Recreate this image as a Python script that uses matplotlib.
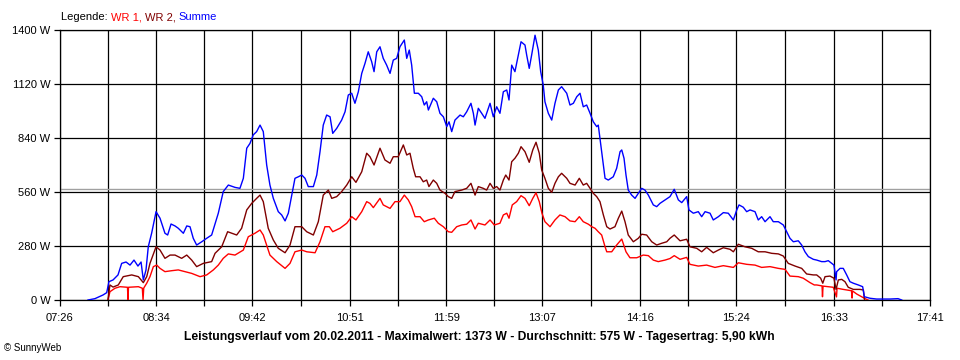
import matplotlib
matplotlib.use("Agg")
import matplotlib.pyplot as plt
from matplotlib.ticker import FixedLocator, NullFormatter

# ---------------- data (time in minutes since midnight, power in W) ----------------
x_tick_labels = ["07:26", "08:34", "09:42", "10:51", "11:59", "13:07", "14:16", "15:24", "16:33", "17:41"]
y_ticks = [0, 280, 560, 840, 1120, 1400]
average_w = 575

summe_t = [465.8, 470.7, 476.4, 479.0, 480.6, 483.5, 487.0, 489.6, 492.7, 495.5, 498.3, 501.1, 503.3, 504.9,
           506.8, 508.4, 510.8, 513.9, 516.7, 520.2, 522.1, 524.5, 527.3, 529.6, 533.2, 535.6, 537.9, 540.2,
           542.6, 546.2, 549.7, 553.2, 557.9, 561.4, 565.0, 569.7, 573.2, 575.6, 578.0, 580.3, 582.6, 585.0,
           587.4, 589.7, 592.1, 594.4, 596.8, 600.3, 602.7, 605.1, 607.4, 609.8, 612.1, 614.5, 616.9, 619.2,
           621.5, 625.1, 627.5, 629.8, 632.1, 634.5, 636.9, 638.8, 641.6, 645.1, 647.5, 649.8, 652.2, 654.5,
           656.9, 659.3, 661.6, 663.9, 666.3, 668.0, 669.9, 672.2, 674.5, 676.9, 679.3, 681.6, 684.0, 686.3,
           689.4, 691.1, 692.9, 694.6, 696.5, 699.3, 701.7, 703.5, 705.2, 706.4, 709.9, 712.3, 714.6, 717.0,
           719.4, 721.0, 722.9, 725.2, 728.8, 731.1, 733.5, 736.5, 738.2, 739.4, 741.7, 744.1, 746.4, 750.0,
           752.3, 754.7, 757.0, 759.4, 761.8, 763.4, 765.3, 767.6, 770.0, 771.9, 774.7, 775.9, 777.7, 779.4,
           781.8, 784.1, 785.8, 787.6, 788.8, 791.2, 793.6, 795.9, 798.3, 800.6, 804.2, 806.5, 808.9, 811.3,
           813.6, 815.9, 818.3, 820.7, 823.0, 825.4, 826.5, 827.7, 828.9, 831.3, 833.6, 837.1, 839.5, 841.9,
           843.1, 844.7, 846.1, 847.7, 850.1, 852.5, 854.8, 857.2, 859.5, 861.9, 865.4, 867.8, 870.1, 873.7,
           877.2, 880.2, 883.1, 885.5, 889.0, 890.6, 893.7, 897.2, 899.6, 902.0, 905.5, 907.8, 911.4, 914.9,
           918.4, 922.0, 924.4, 926.0, 929.0, 931.4, 933.8, 937.3, 939.6, 942.0, 944.4, 947.9, 950.2, 953.8,
           957.3, 959.7, 962.0, 964.4, 967.9, 970.3, 972.6, 975.0, 978.5, 980.9, 984.4, 986.8, 989.1, 991.5,
           993.1, 994.6, 995.0, 997.4, 999.7, 1002.1, 1004.4, 1006.8, 1010.3, 1013.4, 1014.6, 1018.6, 1023.3,
           1032.7, 1038.4, 1041.0]
summe_w = [0, 7, 26, 38, 95, 104, 130, 190, 197, 181, 207, 176, 197, 104,
           156, 276, 347, 458, 424, 346, 337, 394, 384, 372, 346, 384, 380, 320,
           285, 302, 320, 337, 450, 562, 596, 584, 579, 631, 787, 812, 856, 873,
           907, 873, 700, 596, 527, 458, 441, 410, 450, 544, 631, 639, 648, 631,
           588, 588, 648, 769, 907, 959, 950, 864, 890, 933, 976, 1063, 1072, 1020,
           1080, 1175, 1227, 1287, 1236, 1184, 1287, 1313, 1253, 1218, 1175, 1244, 1253, 1313,
           1348, 1253, 1296, 1218, 1072, 1072, 1054, 1011, 1028, 985, 1046, 1028, 968, 950,
           899, 924, 873, 933, 959, 950, 976, 1020, 968, 907, 994, 968, 942, 1020,
           950, 1002, 968, 1080, 1089, 1037, 1218, 1184, 1270, 1339, 1322, 1270, 1201, 1270,
           1373, 1296, 1184, 1115, 1028, 968, 933, 1020, 1089, 1106, 1072, 1011, 1020, 1054,
           1072, 1002, 1011, 968, 924, 899, 907, 838, 769, 631, 622, 639, 683, 769,
           778, 735, 648, 570, 544, 527, 553, 579, 570, 544, 493, 484, 501, 519,
           536, 574, 519, 505, 536, 467, 450, 458, 432, 458, 450, 415, 432, 453,
           450, 415, 467, 493, 481, 458, 467, 458, 415, 432, 406, 432, 406, 406,
           389, 354, 320, 302, 307, 285, 250, 225, 211, 207, 199, 199, 204, 190,
           181, 104, 147, 164, 164, 130, 95, 87, 78, 69, 17, 9, 5,
           5, 7, 0]

wr2_t = [479.9, 481.3, 483.5, 487.2, 490.7, 496.7, 501.4, 504.9, 507.3, 509.6, 513.9, 516.7, 520.2, 523.8,
         527.3, 532.0, 535.6, 539.1, 542.6, 547.3, 553.2, 555.6, 560.3, 564.5, 570.9, 574.4, 578.0, 581.5,
         585.0, 587.4, 589.7, 593.2, 596.8, 600.3, 605.1, 608.6, 612.1, 616.9, 620.4, 625.1, 628.6, 632.1,
         635.7, 638.1, 641.6, 645.1, 648.7, 652.2, 655.2, 659.3, 662.8, 665.1, 668.0, 672.2, 675.7, 679.3,
         681.6, 685.1, 688.7, 691.1, 693.4, 695.7, 697.4, 700.5, 702.8, 705.2, 706.8, 709.9, 712.3, 714.6,
         718.2, 720.5, 722.9, 725.2, 730.0, 733.5, 736.5, 739.4, 741.7, 745.2, 747.6, 750.0, 752.3, 754.7,
         757.0, 759.4, 761.1, 763.4, 765.3, 767.6, 770.0, 771.9, 774.7, 777.7, 780.2, 782.5, 784.8, 786.5,
         788.8, 791.2, 793.6, 795.9, 798.3, 800.6, 804.2, 806.5, 810.1, 813.1, 815.9, 818.3, 820.7, 823.0,
         825.4, 827.7, 830.1, 832.5, 834.8, 838.3, 840.7, 843.1, 845.4, 847.7, 851.3, 854.8, 857.2, 860.7,
         864.3, 867.8, 871.3, 874.9, 877.2, 880.2, 884.3, 889.0, 891.3, 896.1, 899.6, 903.1, 907.8, 911.4,
         914.9, 919.6, 922.0, 925.5, 930.2, 935.0, 939.6, 944.4, 949.1, 953.8, 957.3, 960.8, 965.6, 970.3,
         973.8, 978.5, 980.9, 983.7, 985.2, 986.8, 990.3, 993.1, 994.6, 996.2, 998.6, 1000.9, 1003.2, 1006.8,
         1011.5, 1013.9, 1014.7]
wr2_w = [0, 78, 67, 78, 121, 130, 121, 90, 121, 190, 276, 259, 216, 233,
         233, 216, 233, 207, 173, 190, 199, 242, 276, 354, 337, 372, 467, 501,
         527, 544, 510, 372, 311, 268, 245, 285, 380, 380, 354, 337, 406, 544,
         570, 527, 536, 562, 596, 639, 610, 665, 761, 743, 700, 787, 726, 709,
         743, 743, 804, 752, 761, 683, 639, 639, 613, 622, 588, 622, 605, 570,
         553, 536, 527, 562, 570, 579, 605, 544, 588, 579, 570, 605, 579, 588,
         570, 622, 648, 622, 717, 735, 761, 795, 769, 714, 778, 818, 761, 674,
         631, 579, 558, 605, 639, 657, 631, 605, 596, 631, 596, 605, 579, 553,
         536, 510, 441, 380, 368, 380, 424, 461, 406, 337, 302, 320, 341, 337,
         302, 285, 294, 302, 320, 337, 307, 315, 276, 268, 250, 273, 245, 259,
         271, 263, 250, 289, 276, 268, 250, 250, 242, 239, 228, 190, 176, 164,
         135, 130, 130, 113, 87, 121, 124, 113, 55, 104, 107, 95, 66, 55,
         55, 52, 0]

wr1_t = [479.9, 481.3, 484.9, 488.4, 493.7, 494.1, 494.4, 501.4, 504.2, 504.7, 505.2, 507.3, 509.6, 512.0,
         514.4, 516.7, 520.2, 525.0, 529.6, 534.4, 539.1, 545.0, 549.7, 554.4, 557.9, 561.4, 565.0, 569.7,
         575.6, 579.1, 583.8, 587.4, 589.7, 594.4, 599.2, 605.1, 608.6, 612.1, 616.9, 620.4, 626.3, 629.8,
         633.3, 636.4, 638.8, 643.9, 648.7, 652.2, 655.2, 659.3, 662.8, 665.1, 667.5, 672.2, 674.5, 679.3,
         682.8, 686.3, 689.4, 692.2, 694.6, 697.0, 700.5, 703.5, 706.4, 710.6, 713.4, 717.0, 720.5, 722.9,
         726.4, 730.0, 733.5, 736.5, 739.4, 741.7, 746.4, 750.0, 753.0, 757.0, 759.4, 761.8, 763.4, 765.7,
         768.8, 771.9, 774.7, 777.7, 780.2, 782.5, 784.8, 786.7, 788.8, 792.4, 795.9, 799.4, 803.0, 806.5,
         810.1, 813.1, 815.9, 819.5, 821.9, 824.2, 826.5, 828.9, 831.3, 832.5, 836.0, 839.5, 843.1, 846.1,
         848.9, 853.7, 858.3, 861.9, 865.4, 868.9, 873.7, 877.2, 880.2, 884.3, 889.0, 891.3, 897.2, 903.1,
         909.0, 914.9, 922.0, 925.5, 931.4, 937.3, 942.0, 947.9, 953.8, 958.5, 962.0, 967.9, 971.4, 976.2,
         979.2, 980.9, 984.7, 985.0, 985.4, 989.1, 992.6, 994.9, 995.3, 999.7, 1005.5, 1005.9, 1006.2, 1009.2,
         1012.7, 1015.1, 1017.2]
wr1_w = [0, 43, 61, 69, 66, 0, 66, 69, 61, 0, 62, 87, 121, 173,
         181, 164, 147, 152, 156, 147, 138, 121, 130, 156, 181, 216, 239, 233,
         259, 328, 346, 363, 337, 233, 199, 164, 190, 250, 259, 250, 245, 302,
         380, 380, 354, 372, 398, 432, 415, 458, 510, 501, 479, 527, 493, 475,
         510, 510, 544, 519, 484, 432, 432, 406, 415, 424, 398, 380, 354, 351,
         380, 389, 393, 415, 368, 398, 389, 415, 389, 398, 441, 450, 424, 493,
         510, 541, 527, 489, 527, 556, 510, 450, 406, 380, 415, 441, 432, 410,
         406, 432, 406, 393, 380, 372, 354, 337, 276, 250, 250, 285, 316, 250,
         219, 219, 233, 230, 207, 199, 207, 215, 230, 211, 221, 185, 176, 181,
         169, 178, 169, 193, 185, 181, 169, 173, 164, 159, 124, 121, 113, 90,
         78, 78, 73, 17, 72, 69, 66, 16, 61, 55, 48, 10, 47, 31,
         17, 7, 0]

series = [
    ("WR 1", wr1_t, wr1_w, "#ff0000"),
    ("WR 2", wr2_t, wr2_w, "#800000"),
    ("Summe", summe_t, summe_w, "#0000ff"),
]


def to_minutes(label):
    h, m = label.split(":")
    return int(h) * 60 + int(m)


major_x = [to_minutes(s) for s in x_tick_labels]
minor_x = [(a + b) / 2 for a, b in zip(major_x[:-1], major_x[1:])]

# ---------------- figure ----------------
plt.rcParams["font.family"] = ["Liberation Sans", "DejaVu Sans"]
fig = plt.figure(figsize=(9.6, 3.6), dpi=100, facecolor="white")
ax = fig.add_axes([60 / 960, 1 - 300 / 360, 870 / 960, 270 / 360])
ax.set_facecolor("white")

ax.set_xlim(major_x[0], major_x[-1])
ax.set_ylim(y_ticks[0], y_ticks[-1])

ax.xaxis.set_major_locator(FixedLocator(major_x))
ax.xaxis.set_minor_locator(FixedLocator(minor_x))
ax.set_xticklabels(x_tick_labels)
ax.xaxis.set_minor_formatter(NullFormatter())
ax.set_yticks(y_ticks)
ax.set_yticklabels([f"{v} W" for v in y_ticks])

grid_lw = 0.9
ax.grid(True, which="both", axis="x", color="black", linewidth=grid_lw)
ax.grid(True, which="major", axis="y", color="black", linewidth=grid_lw)
ax.set_axisbelow(True)

ax.tick_params(axis="both", which="both", direction="out", length=4.5, width=grid_lw,
               color="black", labelsize=8, labelcolor="black")
ax.tick_params(axis="x", which="both", pad=5)
ax.tick_params(axis="y", pad=2.5)
for sp in ax.spines.values():
    sp.set_color("black")
    sp.set_linewidth(grid_lw)

ax.axhline(average_w, color="#a0a0a0", linewidth=1.0, zorder=1.5)

for name, t, w, c in series:
    ax.plot(t, w, color=c, linewidth=1.0, zorder=3)

# legend line as coloured text pieces chained one after another
legend_parts = [("Legende: ", "black")] + [
    (f"{name}, " if i < len(series) - 1 else name, c) for i, (name, _, _, c) in enumerate(series)
]
prev = fig.text(61 / 960, 1 - 17 / 360, legend_parts[0][0], color=legend_parts[0][1],
                fontsize=8, va="center", ha="left")
for part, col in legend_parts[1:]:
    prev = ax.annotate(part, xy=(1, 0.5), xycoords=prev, va="center", ha="left",
                       color=col, fontsize=8, annotation_clip=False)

title = ("Leistungsverlauf vom 20.02.2011 - Maximalwert: 1373 W - Durchschnitt: "
         "575 W - Tagesertrag: 5,90 kWh")
fig.text(479 / 960, 1 - 337 / 360, title, fontsize=8.7, fontweight="bold",
         ha="center", va="center", color="black")
fig.text(4 / 960, 1 - 348 / 360, "© SunnyWeb", fontsize=7, ha="left", va="center", color="black")

fig.savefig("out.png", dpi=100, facecolor="white")
